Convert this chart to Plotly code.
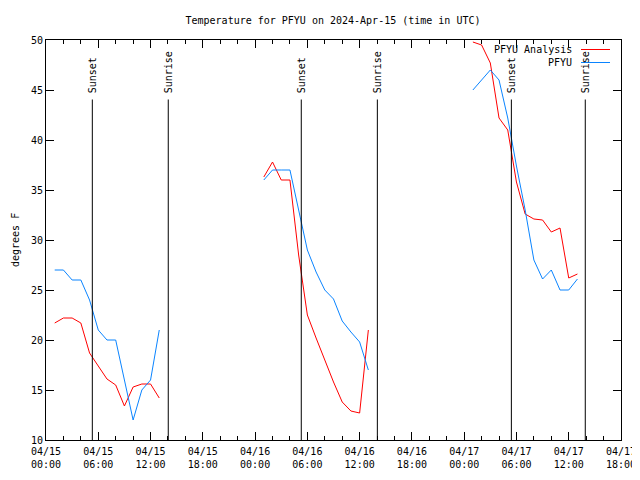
import plotly.graph_objects as go

# ---- data ----
days = ["2024-04-15", "2024-04-16", "2024-04-17"]
hours = [1, 2, 3, 4, 5, 6, 7, 8, 9, 10, 11, 12, 13]

analysis_0415 = [21.7, 22.2, 22.2, 21.7, 18.7, 17.4, 16.1, 15.5, 13.4, 15.3, 15.6, 15.6, 14.2]
analysis_0416 = [36.3, 37.8, 36.0, 36.0, 28.5, 22.5, 20.2, 17.9, 15.8, 13.8, 12.9, 12.7, 21.0]
analysis_0417 = [49.8, 49.5, 47.7, 42.2, 41.0, 35.8, 32.6, 32.1, 32.0, 30.8, 31.2, 26.2, 26.6]

obs_0415 = [27.0, 27.0, 26.0, 26.0, 24.0, 21.0, 20.0, 20.0, 16.0, 12.0, 15.0, 16.0, 21.0]
obs_0416 = [36.0, 37.0, 37.0, 37.0, 33.0, 29.0, 26.8, 25.0, 24.1, 21.9, 20.8, 19.8, 17.0]
obs_0417 = [45.0, 46.0, 47.0, 46.0, 42.2, 37.4, 33.0, 28.0, 26.1, 27.0, 25.0, 25.0, 26.1]

sunsets = ["2024-04-15 05:19", "2024-04-16 05:18", "2024-04-17 05:25"]
sunrises = ["2024-04-15 14:02", "2024-04-16 14:02", "2024-04-17 13:54"]

x_ticks_major_hours = 6
x_range = ["2024-04-15 00:00", "2024-04-17 18:00"]
y_range = [10, 50]

FONT = "DejaVu Sans Mono"
RED = "#ff0000"
BLUE = "#0a84ff"

# page body has an 8px default margin; figure is sized so the plot area lands
# at x 46..621, y 40..440 in the 640x480 window
W, H = 632, 472
ML, MR, MT, MB = 38, 19, 32, 40
PW, PH = W - ML - MR, H - MT - MB


def build(series_by_day):
    xs, ys = [], []
    for d, vals in zip(days, series_by_day):
        for h, v in zip(hours, vals):
            xs.append(f"{d} {h:02d}:00")
            ys.append(v)
        xs.append(None)
        ys.append(None)
    return xs, ys


ax_x, ax_y = build([analysis_0415, analysis_0416, analysis_0417])
ob_x, ob_y = build([obs_0415, obs_0416, obs_0417])

fig = go.Figure()
fig.add_trace(go.Scatter(x=ax_x, y=ax_y, mode="lines", name="PFYU Analysis",
                         line=dict(color=RED, width=1), connectgaps=False))
fig.add_trace(go.Scatter(x=ob_x, y=ob_y, mode="lines", name="PFYU",
                         line=dict(color=BLUE, width=1), connectgaps=False))

# sunset / sunrise markers
line_top = 44.05
for times, label in ((sunsets, "Sunset"), (sunrises, "Sunrise")):
    for t in times:
        fig.add_shape(type="line", xref="x", yref="y", x0=t, x1=t, y0=y_range[0], y1=line_top,
                      line=dict(color="black", width=1))
        fig.add_annotation(x=t, y=line_top + 0.45, xref="x", yref="y", text=label, textangle=-90,
                           showarrow=False, xanchor="center", yanchor="bottom",
                           font=dict(family=FONT, size=10, color="black"))

# custom gnuplot-style legend (text left of sample line); positions in page px
legend_items = [("PFYU Analysis", RED), ("PFYU", BLUE)]
for i, (name, col) in enumerate(legend_items):
    ypix = 49.5 + 13 * i
    yp = 1 - (ypix - 40) / PH
    fig.add_annotation(xref="paper", yref="paper", x=(574 - 46) / PW, y=yp, text=name,
                       showarrow=False, xanchor="right", yanchor="middle",
                       font=dict(family=FONT, size=10, color="black"))
    fig.add_shape(type="line", xref="paper", yref="paper", x0=(581 - 46) / PW, x1=(610 - 46) / PW,
                  y0=yp, y1=yp, line=dict(color=col, width=1))

# y-axis title
fig.add_annotation(xref="paper", yref="paper", x=(15 - 46) / PW, y=0.5, text="degrees F",
                   textangle=-90, showarrow=False, xanchor="center", yanchor="middle",
                   font=dict(family=FONT, size=10, color="black"))

fig.update_layout(
    width=W, height=H,
    margin=dict(l=ML, r=MR, t=MT, b=MB, autoexpand=False),
    paper_bgcolor="white", plot_bgcolor="white",
    showlegend=False,
    font=dict(family=FONT, size=10, color="black"),
    title=dict(text="Temperature for PFYU on 2024-Apr-15 (time in UTC)", x=(333 - 8) / W,
               xanchor="center", y=1 - 12 / H, yanchor="middle", font=dict(family=FONT, size=10)),
)
fig.update_xaxes(
    type="date", range=x_range, showgrid=False, zeroline=False,
    showline=True, linecolor="black", linewidth=1, mirror="allticks",
    ticks="inside", ticklen=8, tickcolor="black",
    dtick=x_ticks_major_hours * 3600 * 1000, tick0="2024-04-15 00:00",
    tickformat="%m/%d<br>%H:%M", tickfont=dict(family=FONT, size=10),
    ticklabelstandoff=2,
    minor=dict(dtick=2 * 3600 * 1000, ticks="inside", ticklen=4, tickcolor="black", showgrid=False),
)
fig.update_yaxes(
    range=y_range, showgrid=False, zeroline=False,
    showline=True, linecolor="black", linewidth=1, mirror="allticks",
    ticks="inside", ticklen=8, tickcolor="black", dtick=5,
    tickfont=dict(family=FONT, size=10),
)

fig.write_html("out.html")
